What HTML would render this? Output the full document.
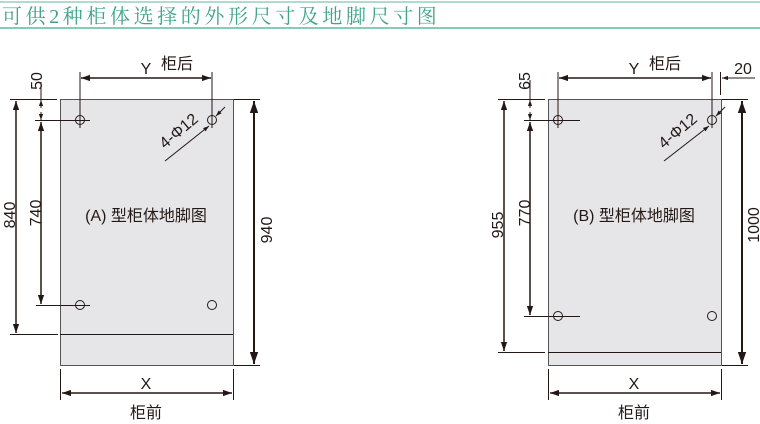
<!DOCTYPE html>
<html><head><meta charset="utf-8"><style>
html,body{margin:0;padding:0;background:#fff;}
svg{display:block;}
text{font-family:"Liberation Sans","Noto Sans CJK SC",sans-serif;fill:#231815;}
</style></head><body>
<svg width="760" height="424" viewBox="0 0 760 424" xmlns="http://www.w3.org/2000/svg">
<defs>
<marker id="a" viewBox="0 0 10 10" refX="10" refY="5" markerWidth="6" markerHeight="6" orient="auto-start-reverse"><path d="M0,1.5 L10,5 L0,8.5 z" fill="#231815"/></marker>
</defs>
<line x1="0" y1="2" x2="760" y2="2" stroke="#5dbb9e" stroke-width="1"/>
<line x1="0" y1="28" x2="760" y2="28" stroke="#5dbb9e" stroke-width="1.5"/>
<text x="2" y="23" font-size="20" style="fill:#3fa48a;letter-spacing:3.6px;font-family:'Liberation Serif','Noto Serif CJK SC',serif">可供2种柜体选择的外形尺寸及地脚尺寸图</text>

<g stroke="#231815" stroke-width="1" fill="none">
<!-- A -->
<rect x="60.5" y="99.5" width="173" height="266" fill="#e6e6e8" stroke="#555"/>
<line x1="60" y1="334.5" x2="233" y2="334.5"/>
<circle cx="80" cy="120" r="4.5"/><circle cx="212" cy="120" r="4.5"/>
<circle cx="80" cy="305" r="4.5"/><circle cx="212" cy="305" r="4.5"/>
<line x1="80" y1="72" x2="80" y2="128"/><line x1="212" y1="72" x2="212" y2="128"/>
<line x1="81" y1="78" x2="211" y2="78" stroke-width="1.5" marker-start="url(#a)" marker-end="url(#a)"/>
<line x1="10" y1="99.5" x2="57" y2="99.5"/><line x1="10" y1="334.5" x2="58" y2="334.5"/>
<line x1="35" y1="120.5" x2="90" y2="120.5"/><line x1="36" y1="305.5" x2="90" y2="305.5"/>
<line x1="41" y1="82" x2="41" y2="99" /><line x1="41" y1="108" x2="41" y2="100" marker-end="url(#a)"/>
<line x1="41" y1="112" x2="41" y2="120" marker-end="url(#a)"/>
<line x1="41" y1="122" x2="41" y2="304" stroke-width="1.5" marker-start="url(#a)" marker-end="url(#a)"/>
<line x1="16" y1="101" x2="16" y2="333" stroke-width="1.5" marker-start="url(#a)" marker-end="url(#a)"/>
<line x1="234" y1="99.5" x2="260" y2="99.5"/><line x1="234" y1="365.5" x2="260" y2="365.5"/>
<line x1="254" y1="101" x2="254" y2="364" stroke-width="2" marker-start="url(#a)" marker-end="url(#a)"/>
<line x1="60.5" y1="369" x2="60.5" y2="400"/><line x1="233.5" y1="369" x2="233.5" y2="400"/>
<line x1="62" y1="393" x2="232" y2="393" stroke-width="1.5" marker-start="url(#a)" marker-end="url(#a)"/>
<line x1="165" y1="161" x2="209" y2="126" marker-end="url(#a)"/>
<line x1="225" y1="107" x2="216" y2="116" marker-end="url(#a)"/>
<!-- B -->
<rect x="548.5" y="99.5" width="173" height="266" fill="#e6e6e8" stroke="#555"/>
<line x1="548" y1="352.5" x2="721" y2="352.5"/>
<circle cx="558" cy="120" r="4.5"/><circle cx="712" cy="120" r="4.5"/>
<circle cx="558" cy="316" r="4.5"/><circle cx="712" cy="316" r="4.5"/>
<line x1="558" y1="72" x2="558" y2="128"/><line x1="712" y1="72" x2="712" y2="128"/>
<line x1="720.5" y1="72" x2="720.5" y2="95"/>
<line x1="559" y1="78" x2="711" y2="78" stroke-width="1.5" marker-start="url(#a)" marker-end="url(#a)"/>
<line x1="755" y1="78" x2="722" y2="78" marker-end="url(#a)"/>
<line x1="498" y1="99.5" x2="545" y2="99.5"/><line x1="498" y1="352.5" x2="545" y2="352.5"/>
<line x1="524" y1="120.5" x2="580" y2="120.5"/><line x1="524" y1="316.5" x2="580" y2="316.5"/>
<line x1="530" y1="80" x2="530" y2="99"/><line x1="530" y1="108" x2="530" y2="100" marker-end="url(#a)"/>
<line x1="530" y1="112" x2="530" y2="120" marker-end="url(#a)"/>
<line x1="530" y1="122" x2="530" y2="315" stroke-width="1.5" marker-start="url(#a)" marker-end="url(#a)"/>
<line x1="504" y1="101" x2="504" y2="351" stroke-width="1.5" marker-start="url(#a)" marker-end="url(#a)"/>
<line x1="722" y1="99.5" x2="748" y2="99.5"/><line x1="722" y1="365.5" x2="748" y2="365.5"/>
<line x1="742" y1="101" x2="742" y2="364" stroke-width="2" marker-start="url(#a)" marker-end="url(#a)"/>
<line x1="548.5" y1="369" x2="548.5" y2="400"/><line x1="721.5" y1="369" x2="721.5" y2="400"/>
<line x1="550" y1="393" x2="720" y2="393" stroke-width="1.5" marker-start="url(#a)" marker-end="url(#a)"/>
<line x1="664" y1="161" x2="709" y2="126" marker-end="url(#a)"/>
<line x1="725" y1="107" x2="716" y2="116" marker-end="url(#a)"/>
</g>

<g font-size="16">
<text x="146" y="74" text-anchor="middle">Y</text><text x="177" y="69" text-anchor="middle">柜后</text>
<text x="146" y="221" text-anchor="middle">(A) 型柜体地脚图</text>
<text x="146" y="389" text-anchor="middle">X</text><text x="146" y="418" text-anchor="middle">柜前</text>
<text transform="translate(42,81) rotate(-90)" text-anchor="middle">50</text>
<text transform="translate(15,215) rotate(-90)" text-anchor="middle">840</text>
<text transform="translate(41,213) rotate(-90)" text-anchor="middle">740</text>
<text transform="translate(272,230) rotate(-90)" text-anchor="middle">940</text>
<text transform="translate(182,135) rotate(-40)" text-anchor="middle">4-Φ12</text>

<text x="634" y="74" text-anchor="middle">Y</text><text x="665" y="69" text-anchor="middle">柜后</text>
<text x="743" y="74" text-anchor="middle">20</text>
<text x="634" y="221" text-anchor="middle">(B) 型柜体地脚图</text>
<text x="634" y="389" text-anchor="middle">X</text><text x="634" y="418" text-anchor="middle">柜前</text>
<text transform="translate(530,81) rotate(-90)" text-anchor="middle">65</text>
<text transform="translate(503,225) rotate(-90)" text-anchor="middle">955</text>
<text transform="translate(530,213) rotate(-90)" text-anchor="middle">770</text>
<text transform="translate(759,225) rotate(-90)" text-anchor="middle">1000</text>
<text transform="translate(681,135) rotate(-40)" text-anchor="middle">4-Φ12</text>
</g>
</svg>
</body></html>
